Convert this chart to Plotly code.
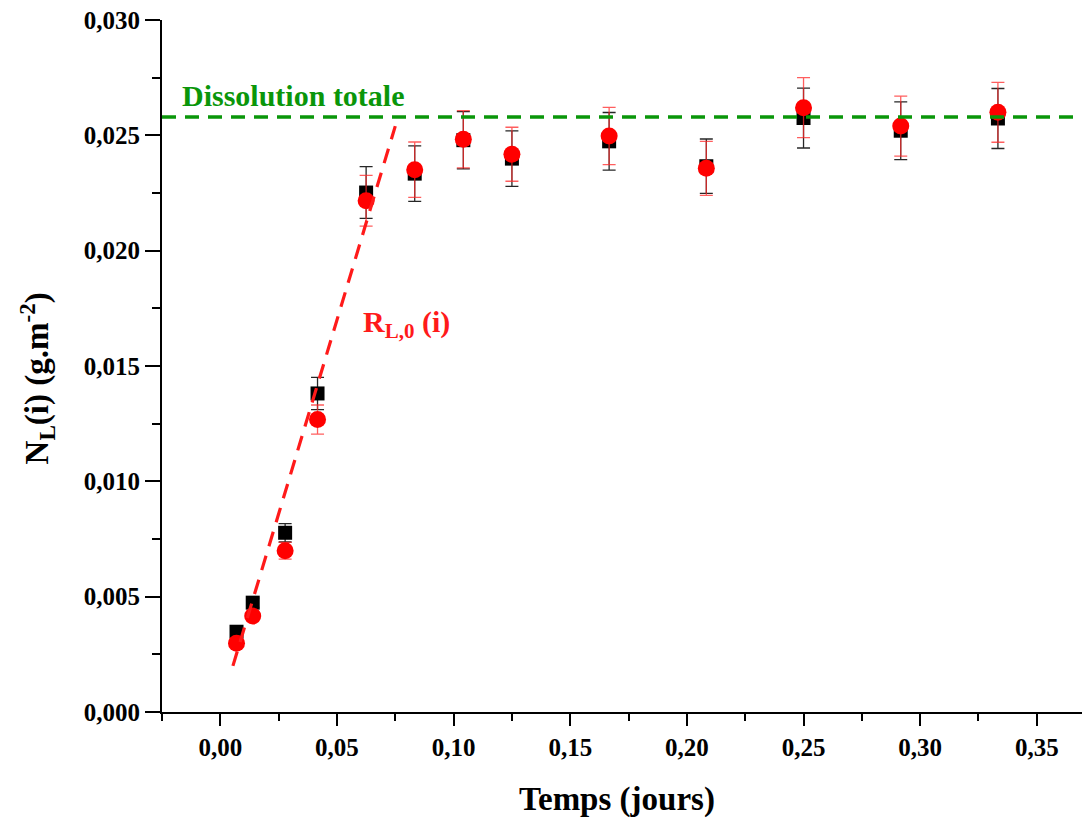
import plotly.graph_objects as go

# Time (days)
t = [0.00694, 0.01389, 0.02778, 0.04167, 0.0625, 0.08333, 0.10417,
     0.125, 0.16667, 0.20833, 0.25, 0.29167, 0.33333]
# Series 1 (black squares)
black_y = [0.00348, 0.00474, 0.00777, 0.01381, 0.02252, 0.02334, 0.02479,
           0.02399, 0.02474, 0.02366, 0.02575, 0.02520, 0.02573]
black_err = [0.00015, 0.00020, 0.00040, 0.00070, 0.00112, 0.00120, 0.00124,
             0.00120, 0.00125, 0.00118, 0.00130, 0.00125, 0.00130]
# Series 2 (red circles)
red_y = [0.00298, 0.00416, 0.00699, 0.01268, 0.02216, 0.02351, 0.02483,
         0.02418, 0.02497, 0.02357, 0.02620, 0.02540, 0.02600]
red_err = [0.00015, 0.00020, 0.00036, 0.00063, 0.00110, 0.00120, 0.00124,
           0.00117, 0.00124, 0.00117, 0.00130, 0.00130, 0.00130]
# Initial-rate line R_L,0(i) (end points)
fit_t = [0.0054, 0.0750]
fit_y = [0.0020, 0.0254]
# Total dissolution plateau
plateau = 0.0258

SERIF = "Liberation Serif"

fig = go.Figure()

fig.add_trace(go.Scatter(
    x=t, y=black_y, mode="markers",
    marker=dict(symbol="square", size=14, color="black"),
    error_y=dict(type="data", array=black_err, visible=True,
                 color="rgba(0,0,0,0.85)", thickness=1.3, width=6.5),
    showlegend=False))

fig.add_trace(go.Scatter(
    x=t, y=red_y, mode="markers",
    marker=dict(symbol="circle", size=17, color="#ff0000"),
    error_y=dict(type="data", array=red_err, visible=True,
                 color="rgba(255,40,40,0.75)", thickness=1.3, width=6.5),
    showlegend=False))

fig.add_trace(go.Scatter(
    x=fit_t, y=fit_y, mode="lines",
    line=dict(color="#ff1a1a", width=3.2, dash="15px,10px"),
    showlegend=False))

fig.add_shape(type="line", xref="paper", x0=0, x1=1, yref="y",
              y0=plateau, y1=plateau,
              line=dict(color="#0a960a", width=3.5, dash="14px,9px"))

fig.add_annotation(x=-0.0171, y=0.02674, xref="x", yref="y",
                   text="<b>Dissolution totale</b>", showarrow=False,
                   xanchor="left", yanchor="middle",
                   font=dict(family=SERIF, size=30, color="#0a960a"))

fig.add_annotation(x=0.0601, y=0.0168, xref="x", yref="y",
                   text="<b>R<sub>L,0</sub> (i)</b>", showarrow=False,
                   xanchor="left", yanchor="middle",
                   font=dict(family=SERIF, size=30, color="#ff1a1a"))

# axis titles placed as annotations to match their slightly off-centre positions
fig.add_annotation(x=0.4903, y=-0.127, xref="paper", yref="paper",
                   text="<b>Temps (jours)</b>", showarrow=False,
                   xanchor="center", yanchor="middle",
                   font=dict(family=SERIF, size=33, color="black"))

fig.add_annotation(x=-0.1347, y=0.482, xref="paper", yref="paper",
                   text="<b>N<sub>L</sub>(i) (g.m<sup>-2</sup>)</b>",
                   showarrow=False, textangle=-90,
                   xanchor="center", yanchor="middle",
                   font=dict(family=SERIF, size=33, color="black"))

axis_common = dict(
    showline=True, linewidth=2, linecolor="black",
    ticks="outside", tickwidth=2, tickcolor="black",
    showgrid=False, zeroline=False, mirror=False, automargin=False,
    ticklabeloverflow="allow",
    tickfont=dict(family=SERIF, size=25, color="black", weight="bold"),
)

fig.update_xaxes(
    range=[-0.025, 0.3728], dtick=0.05, tick0=0, tickformat=".2f", ticklen=12,
    minor=dict(ticks="outside", ticklen=7, tickwidth=2, tickcolor="black",
               dtick=0.025, tick0=0, showgrid=False),
    **axis_common)

fig.update_yaxes(
    range=[0, 0.030], dtick=0.005, tick0=0, tickformat=".3f", ticklen=15,
    minor=dict(ticks="outside", ticklen=8, tickwidth=2, tickcolor="black",
               dtick=0.0025, tick0=0, showgrid=False),
    **axis_common)

# The page body adds an 8px offset, so the figure is 8px smaller and margins shifted
fig.update_layout(
    width=1082, height=811,
    margin=dict(l=154, r=0, t=12, b=107, pad=0),
    paper_bgcolor="white", plot_bgcolor="white",
    separators=", ",
    font=dict(family=SERIF),
)

fig.write_html("out.html")
